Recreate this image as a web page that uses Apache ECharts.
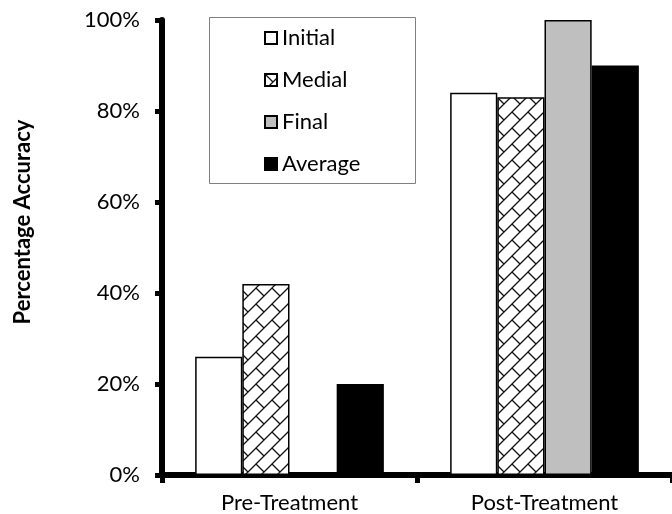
<!DOCTYPE html>
<html>
<head>
<meta charset="utf-8">
<script src="https://cdn.jsdelivr.net/npm/echarts@6/dist/echarts.min.js"></script>
<style>
  html, body { margin: 0; padding: 0; background: #fff; }
  #chart { width: 672px; height: 514px; }
</style>
</head>
<body>
<div id="chart"></div>
<script>
// Chart data
const categories = ['Pre-Treatment', 'Post-Treatment'];
const seriesNames = ['Initial', 'Medial', 'Final', 'Average'];
const initialValues = [26, 84];
const medialValues = [42, 83];
const finalValues = [0, 100];
const averageValues = [20, 90];
const yTicks = [0, 20, 40, 60, 80, 100];

const FONT = 'Lato, "Open Sans", sans-serif';

// Diagonal brick fill used for the "Medial" bars
function brickPattern() {
  const s = 16;
  const c = document.createElement('canvas');
  c.width = s; c.height = s;
  const g = c.getContext('2d');
  g.fillStyle = '#fff';
  g.fillRect(0, 0, s, s);
  g.strokeStyle = '#111';
  g.lineWidth = 1.3;
  g.lineCap = 'butt';
  g.beginPath();
  // long rising lines
  g.moveTo(-2, s + 2); g.lineTo(s + 2, -2);
  g.moveTo(-2, 2); g.lineTo(2, -2);
  g.moveTo(s - 2, s + 2); g.lineTo(s + 2, s - 2);
  // short joints between rows
  g.moveTo(0, 0); g.lineTo(s / 2, s / 2);
  g.stroke();
  return c;
}

const chart = echarts.init(document.getElementById('chart'), null, { renderer: 'canvas' });

const edge = { borderColor: '#000', borderWidth: 1.5 };
const fills = [
  '#ffffff',
  { image: brickPattern(), repeat: 'repeat' },
  '#bfbfbf',
  '#000000'
];
const values = [initialValues, medialValues, finalValues, averageValues];

const option = {
  backgroundColor: '#fff',
  animation: false,
  textStyle: { fontFamily: FONT },
  grid: { left: 162, right: 0, top: 20, bottom: 39, containLabel: false },
  legend: {
    data: seriesNames,
    orient: 'vertical',
    left: 259,
    top: 21,
    itemWidth: 12,
    itemHeight: 12,
    itemGap: 18,
    icon: 'rect',
    z: 5,
    itemStyle: { borderColor: '#000', borderWidth: 2 },
    textStyle: { fontFamily: FONT, fontSize: 22, color: '#000', lineHeight: 24, padding: [0, 0, 0, 0] }
  },
  xAxis: {
    type: 'category',
    data: categories,
    axisLine: { lineStyle: { color: '#000', width: 6 } },
    axisTick: { show: true, alignWithLabel: false, length: 8, lineStyle: { color: '#000', width: 5 } },
    axisLabel: { color: '#000', fontSize: 22, fontFamily: FONT, margin: 17 },
    splitLine: { show: false }
  },
  yAxis: {
    type: 'value',
    min: yTicks[0],
    max: yTicks[yTicks.length - 1],
    interval: yTicks[1] - yTicks[0],
    axisLine: { show: true, lineStyle: { color: '#000', width: 6 } },
    axisTick: { show: true, length: 7, lineStyle: { color: '#000', width: 5 } },
    axisLabel: { color: '#000', fontSize: 22, fontFamily: FONT, margin: 22, formatter: '{value}%' },
    splitLine: { show: false }
  },
  graphic: [
    {
      type: 'rect',
      z: 3,
      shape: { x: 209.5, y: 17.5, width: 206, height: 166 },
      style: { fill: '#fff', stroke: '#7f7f7f', lineWidth: 1 }
    },
    {
      type: 'text',
      z: 3,
      x: 23,
      y: 222,
      rotation: Math.PI / 2,
      style: {
        text: 'Percentage Accuracy',
        font: 'bold 22px ' + FONT,
        fill: '#000',
        textAlign: 'center',
        textVerticalAlign: 'middle'
      }
    }
  ],
  series: seriesNames.map((name, i) => ({
    name: name,
    type: 'bar',
    data: values[i],
    barGap: '0%',
    barCategoryGap: '26%',
    itemStyle: Object.assign({ color: fills[i] }, edge),
    emphasis: { disabled: true }
  }))
};

chart.setOption(option);
</script>
</body>
</html>
